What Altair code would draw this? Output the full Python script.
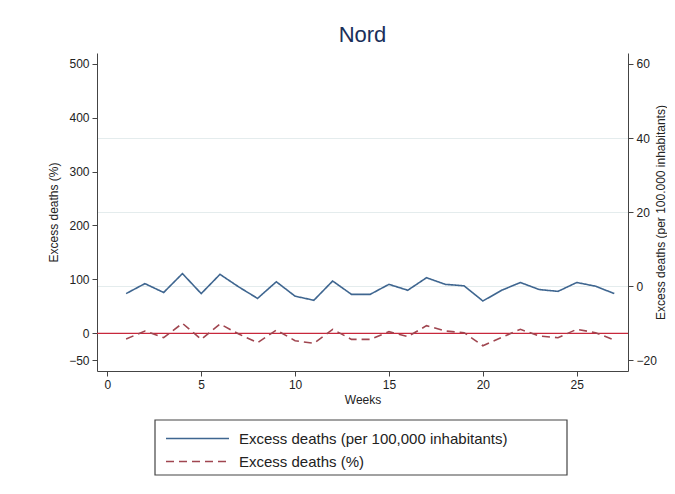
import altair as alt
import pandas as pd

weeks = list(range(1, 28))
per100k = [-2.0, 0.7, -1.7, 3.4, -2.0, 3.2, -0.2, -3.3, 1.2, -2.7, -3.8, 1.4, -2.2, -2.2,
           0.5, -1.1, 2.3, 0.5, 0.1, -4.0, -1.1, 1.0, -0.9, -1.4, 1.0, 0.0, -2.0]
pct = [-10.6, 4.3, -8.1, 18.5, -11.2, 17.3, -1.3, -17.4, 6.1, -13.7, -18.6, 7.4, -11.2, -11.2,
       3.0, -6.2, 14.2, 4.3, 1.2, -23.0, -7.5, 7.4, -5.0, -8.1, 7.4, 1.2, -12.4]

S1 = "Excess deaths (per 100,000 inhabitants)"
S2 = "Excess deaths (%)"

df = pd.DataFrame({
    "week": weeks * 2,
    "series": [S1] * len(weeks) + [S2] * len(weeks),
    "value": per100k + pct,
})

FONT = "Liberation Sans"
BLUE = "#3f6690"
DRED = "#a04650"
RED = "#c8283c"

xenc = alt.X("week:Q", title="Weeks",
             scale=alt.Scale(domain=[-0.55, 27.73], nice=False, zero=False),
             axis=alt.Axis(values=[0, 5, 10, 15, 20, 25], grid=False, tickSize=5,
                           labelFontSize=12, titleFontSize=12, labelPadding=3,
                           titlePadding=4, domainColor="#444", tickColor="#444",
                           labelColor="#222", titleColor="#222", titleFontWeight="normal"))

leg = alt.Legend(title=None, orient="none", legendX=68, legendY=374,
                 direction="vertical", symbolType="M-1,0H5",
                 symbolSize=441, symbolStrokeWidth=1.5,
                 labelFontSize=15, labelColor="#222", labelFont=FONT,
                 labelLimit=400, padding=0, rowPadding=3, labelOffset=51)

color = alt.Color("series:N",
                  scale=alt.Scale(domain=[S1, S2], range=[BLUE, DRED]),
                  legend=leg)
dash = alt.StrokeDash("series:N",
                      scale=alt.Scale(domain=[S1, S2], range=[[1, 0], [8, 5]]),
                      legend=leg)

left_scale = alt.Scale(domain=[-69.9, 519.9], nice=False, zero=False)
right_scale = alt.Scale(domain=[-22.9, 62.97], nice=False, zero=False)

left_axis = alt.Axis(orient="left", values=[-50, 0, 100, 200, 300, 400, 500],
                     grid=False, tickSize=5, labelFontSize=12, titleFontSize=12,
                     labelPadding=3, titlePadding=8, domainColor="#444",
                     tickColor="#444", labelColor="#222", titleColor="#222",
                     titleFontWeight="normal")

pct_line = alt.Chart(df).transform_filter(alt.datum.series == S2).mark_line(
    strokeWidth=1.6).encode(
    x=xenc,
    y=alt.Y("value:Q", title="Excess deaths (%)", scale=left_scale, axis=left_axis),
    color=color, strokeDash=dash,
)

zero_df = pd.DataFrame({"value": [0]})
zero_rule = alt.Chart(zero_df).mark_rule(color=RED, strokeWidth=1.3).encode(
    y=alt.Y("value:Q", title="Excess deaths (%)", scale=left_scale, axis=left_axis)
)

left = alt.layer(zero_rule, pct_line)

per_line = alt.Chart(df).transform_filter(alt.datum.series == S1).mark_line(
    strokeWidth=1.6).encode(
    x=xenc,
    y=alt.Y("value:Q", title="Excess deaths (per 100.000 inhabitants)", scale=right_scale,
            axis=alt.Axis(orient="right", values=[-20, 0, 20, 40, 60],
                          grid=True,
                          gridColor={"condition": {"test": "datum.value > 50 || datum.value < -10",
                                                   "value": "transparent"},
                                     "value": "#e4eced"},
                          gridWidth=1,
                          tickSize=5, labelFontSize=12, titleFontSize=12,
                          labelPadding=3, titlePadding=11, titleAngle=270,
                          domainColor="#444",
                          tickColor="#444", labelColor="#222", titleColor="#222",
                          titleFontWeight="normal")),
    color=color, strokeDash=dash,
)

box_df = pd.DataFrame({"b": [0]})
legend_box = alt.Chart(box_df).mark_rect(fill="transparent", stroke="#444",
                                          strokeWidth=1.2).encode(
    x=alt.value(58), x2=alt.value(470), y=alt.value(367), y2=alt.value(422)
)

chart = alt.layer(left, per_line, legend_box).resolve_scale(y="independent").properties(
    width=531, height=318,
    autosize=alt.AutoSizeParams(type="none"),
    padding={"left": 89, "top": 45, "right": 39, "bottom": 112},
    title=alt.Title("Nord", fontSize=22, color="#1a2f5a", font=FONT,
                    fontWeight="normal", anchor="middle", offset=6),
).configure(font=FONT).configure_view(stroke=None)

chart.save("out.html", embed_options={"renderer": "svg", "actions": False})
